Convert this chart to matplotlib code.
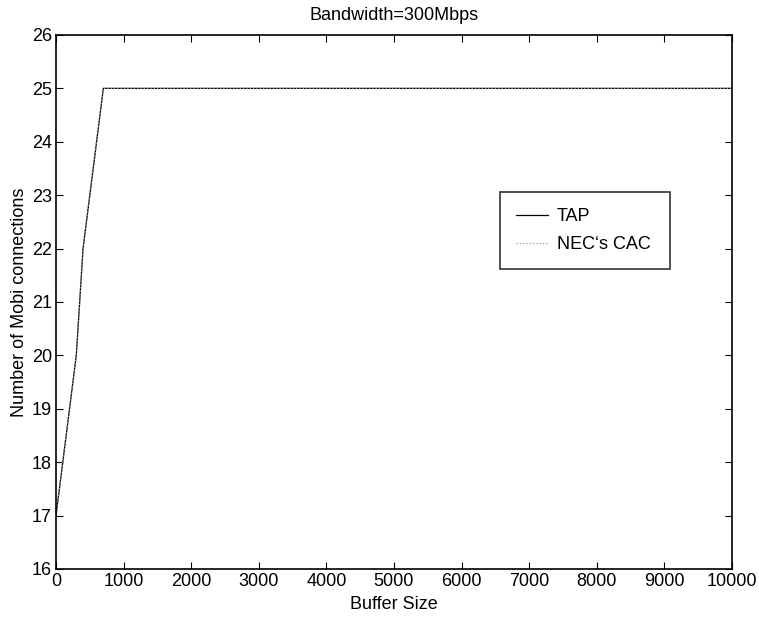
import matplotlib
matplotlib.use("Agg")
import matplotlib.pyplot as plt

plt.rcParams['font.family'] = ['Liberation Sans', 'DejaVu Sans']

# buffer size vs. number of connections (both schemes overlap)
buf_size = [0, 300, 400, 700, 1000, 2000, 3000, 4000, 5000, 6000, 7000, 8000, 9000, 10000]
tap = [17, 20, 22, 25, 25, 25, 25, 25, 25, 25, 25, 25, 25, 25]
nec_cac = [17, 20, 22, 25, 25, 25, 25, 25, 25, 25, 25, 25, 25, 25]

x_ticks = list(range(0, 10001, 1000))
y_ticks = list(range(16, 27))

fig = plt.figure(figsize=(7.59, 6.17), dpi=100)
ax = fig.add_axes([0.0738, 0.0778, 0.8906, 0.8655])

ax.plot(buf_size, tap, '-', color='black', lw=0.9, label='TAP')
ax.plot(buf_size, nec_cac, ':', color='#999999', lw=0.9, label="NEC\u2018s CAC")

ax.set_xlim(0, 10000)
ax.set_ylim(16, 26)
ax.set_xticks(x_ticks)
ax.set_yticks(y_ticks)
ax.tick_params(direction='in', top=True, right=True, labelsize=13, length=5, width=0.8, pad=3)
for s in ax.spines.values():
    s.set_linewidth(1.2)

ax.set_title('Bandwidth=300Mbps', fontsize=13, pad=11)
ax.set_xlabel('Buffer Size', fontsize=13, labelpad=4)
ax.set_ylabel('Number of Mobi connections', fontsize=13, labelpad=3)

# legend box roughly where the original sits
leg = ax.legend(loc='upper left', bbox_to_anchor=(0.657, 0.706, 0.252, 0.0),
                mode='expand', borderaxespad=0, fontsize=13, frameon=True,
                fancybox=False, edgecolor='black', borderpad=0.9,
                handlelength=1.75, handletextpad=0.5, labelspacing=0.6)
leg.get_frame().set_linewidth(1.2)

fig.savefig('out.png', dpi=100)
